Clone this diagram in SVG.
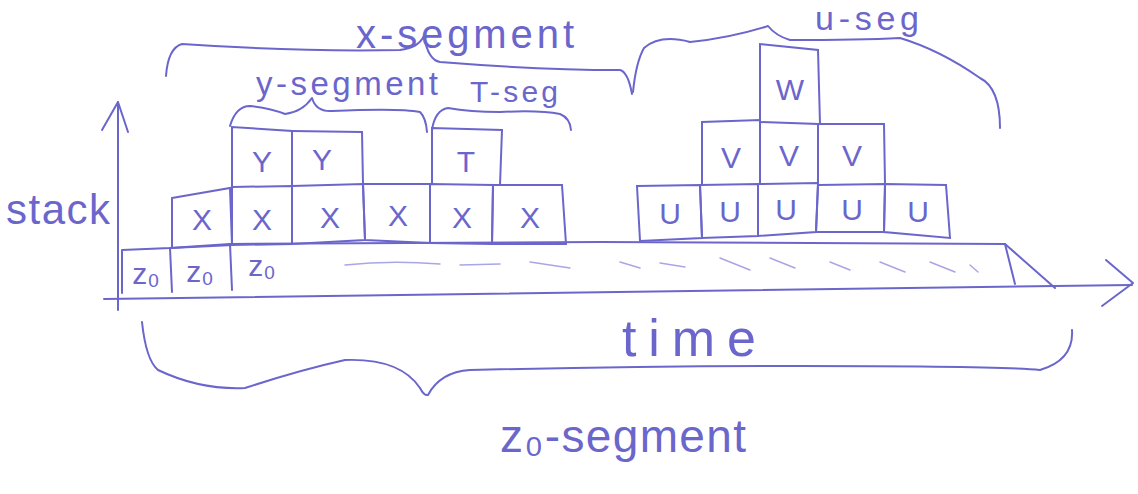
<svg xmlns="http://www.w3.org/2000/svg" width="1138" height="494" viewBox="0 0 1138 494">
<style>
.ln{fill:none;stroke:#6b66cc;stroke-width:2;stroke-linecap:round;stroke-linejoin:round}
.bx{fill:none;stroke:#6b66cc;stroke-width:2}
.lt{fill:none;stroke:#aaa6e6;stroke-width:1.5;stroke-linecap:round}
text{font-family:"Liberation Sans",Arial,sans-serif;fill:#6b66cc}
.cell{font-size:30px;text-anchor:middle}
</style>
<rect width="1138" height="494" fill="#ffffff"/>
<g id="axes" class="ln">
<path d="M118,310 L118,102"/>
<path d="M102,130 L118,102 L128,132"/>
<path d="M104,299 L1132,285"/>
<path d="M1106,260 L1133,283 L1102,306"/>
</g>
<g id="z0-row">
<path class="ln" d="M122,293 L122,250 L170,248 L230,244 L600,242 L1005,244 L1015,284"/>
<path class="ln" d="M170,248 L172,292"/>
<path class="ln" d="M230,244 L232,290"/>
<path class="ln" d="M1005,244 L1055,288"/>
<path class="lt" d="M345,265 Q390,260 440,264 M460,265 L500,264 M530,262 L570,268 M620,262 L640,268 M660,263 L685,267 M720,258 L750,270 M770,258 L795,268 M830,262 L850,270 M880,262 L905,272 M930,262 L955,272 M970,265 L978,272"/>
<text class="cell" x="146" y="284" font-size="24">z₀</text>
<text class="cell" x="200" y="282" font-size="24">z₀</text>
<text class="cell" x="262" y="276" font-size="24">z₀</text>
</g>
<g id="x-boxes">
<path class="bx" d="M172,198 L230,188 L232,245 L172,248 Z"/>
<path class="bx" d="M232,187 L292,186 L292,244 L232,245 Z"/>
<path class="bx" d="M292,186 L363,184 L365,240 L292,244 Z"/>
<path class="bx" d="M363,184 L430,184 L430,243 L365,240 Z"/>
<path class="bx" d="M430,184 L493,185 L492,244 L430,243 Z"/>
<path class="bx" d="M493,185 L562,185 L566,244 L492,244 Z"/>
<text class="cell" x="202" y="230">X</text>
<text class="cell" x="262" y="230">X</text>
<text class="cell" x="330" y="228">X</text>
<text class="cell" x="398" y="226">X</text>
<text class="cell" x="462" y="228">X</text>
<text class="cell" x="530" y="228">X</text>
</g>
<g id="y-boxes">
<path class="bx" d="M232,187 L232,127 L292,131 L292,186"/>
<path class="bx" d="M292,131 L362,132 L363,184"/>
<text class="cell" x="262" y="172">Y</text>
<text class="cell" x="322" y="170">Y</text>
</g>
<g id="t-box">
<path class="bx" d="M432,184 L432,128 L502,130 L500,185"/>
<text class="cell" x="466" y="172">T</text>
</g>
<g id="u-boxes">
<path class="bx" d="M637,186 L700,185 L702,238 L640,241 Z"/>
<path class="bx" d="M700,185 L758,184 L758,236 L702,238 Z"/>
<path class="bx" d="M758,184 L818,183 L816,232 L758,236 Z"/>
<path class="bx" d="M818,185 L885,184 L884,232 L816,232 Z"/>
<path class="bx" d="M885,184 L946,185 L950,238 L884,232 Z"/>
<text class="cell" x="670" y="224">U</text>
<text class="cell" x="730" y="222">U</text>
<text class="cell" x="786" y="220">U</text>
<text class="cell" x="852" y="220">U</text>
<text class="cell" x="918" y="222">U</text>
</g>
<g id="v-boxes">
<path class="bx" d="M702,185 L702,122 L760,120 L760,184"/>
<path class="bx" d="M760,122 L818,124 L818,183"/>
<path class="bx" d="M818,124 L884,124 L885,184"/>
<text class="cell" x="731" y="168">V</text>
<text class="cell" x="789" y="166">V</text>
<text class="cell" x="852" y="166">V</text>
</g>
<g id="w-box">
<path class="bx" d="M760,122 L760,44 L818,50 L820,124"/>
<text class="cell" x="790" y="100">W</text>
</g>
<g id="braces" class="ln">
<path d="M166,76 Q168,48 182,44 Q300,52 400,50 Q418,48 424,36 Q428,60 440,62 Q540,70 620,70 Q628,72 632,94"/>
<path d="M230,126 Q236,106 250,106 Q270,108 285,114 Q302,112 312,98 Q316,112 332,111 Q400,108 420,112 Q426,118 427,132"/>
<path d="M432,130 Q435,110 448,108 Q470,112 500,112 Q540,110 560,114 Q570,118 571,130"/>
<path d="M633,92 Q636,62 644,48 Q660,34 690,42 Q730,38 768,26 Q776,36 790,40 Q860,40 900,38 Q940,50 980,78 Q1000,88 1000,128"/>
<path d="M142,322 Q146,360 158,370 Q200,390 245,388 Q300,370 345,360 Q400,358 420,388 Q424,396 428,395 Q440,372 470,370 Q640,366 800,366 Q1000,366 1040,370 Q1074,360 1072,330"/>
</g>
<g id="labels">
<text x="356" y="48" font-size="40" textLength="218" lengthAdjust="spacing">x-segment</text>
<text x="256" y="95" font-size="33" textLength="182" lengthAdjust="spacing">y-segment</text>
<text x="470" y="102" font-size="30" textLength="88" lengthAdjust="spacing">T-seg</text>
<text x="815" y="30" font-size="34" textLength="104" lengthAdjust="spacing">u-seg</text>
<text x="6" y="224" font-size="42" textLength="104" lengthAdjust="spacing">stack</text>
<text x="622" y="356" font-size="52" textLength="134" lengthAdjust="spacing">time</text>
<text x="500" y="452" font-size="46" textLength="246" lengthAdjust="spacing">z₀-segment</text>
</g>
</svg>
